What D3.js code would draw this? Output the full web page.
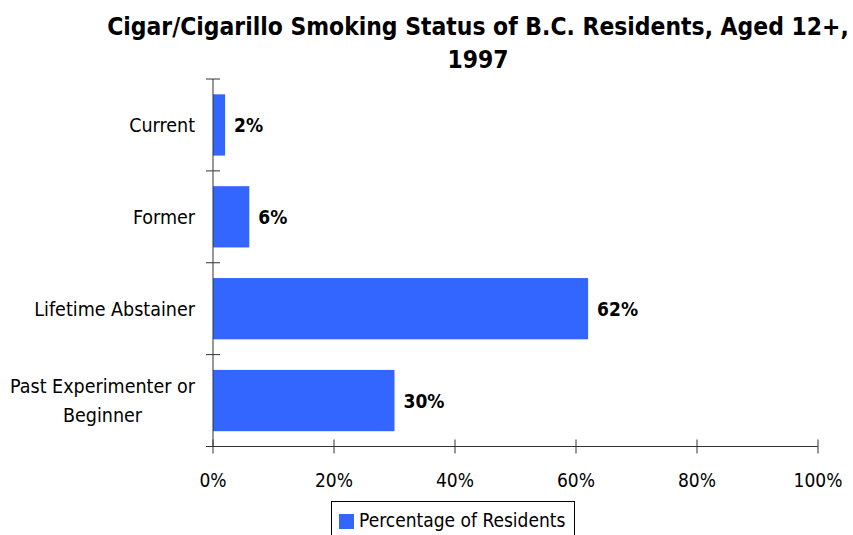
<!DOCTYPE html>
<html>
<head>
<meta charset="utf-8">
<script src="https://cdn.jsdelivr.net/npm/d3@7"></script>
<style>
  html, body { margin: 0; padding: 0; background: #fff; }
  svg { display: block; }
  text { font-family: "DejaVu Sans Condensed", "DejaVu Sans", sans-serif; fill: #000; }
</style>
</head>
<body>
<svg id="chart" width="853" height="535"></svg>
<script>
const titleLines = ["Cigar/Cigarillo Smoking Status of B.C. Residents, Aged 12+,", "1997"];
const categories = ["Current", "Former", "Lifetime Abstainer", "Past Experimenter or Beginner"];
const values = [2, 6, 62, 30];
const valueLabels = ["2%", "6%", "62%", "30%"];
const xTicks = [0, 20, 40, 60, 80, 100];
const xTickLabels = ["0%", "20%", "40%", "60%", "80%", "100%"];
const seriesName = "Percentage of Residents";

const svg = d3.select("#chart");
const color = "#3366ff";
const axisColor = "#333";

const x = d3.scaleLinear().domain([0, 100]).range([213, 818]);
const y = d3.scaleBand().domain(categories).range([79, 446.5]).paddingInner(0.333).paddingOuter(0.1667);
const step = y.step();

// title
svg.append("g").selectAll("text").data(titleLines).join("text")
  .attr("x", 478)
  .attr("y", (d, i) => 35 + i * 33)
  .attr("text-anchor", "middle")
  .style("font-size", "24.4px")
  .style("font-weight", "bold")
  .text(d => d);

// bars
svg.append("g").selectAll("rect").data(categories).join("rect")
  .attr("x", x(0))
  .attr("y", d => y(d))
  .attr("width", (d, i) => x(values[i]) - x(0))
  .attr("height", y.bandwidth())
  .attr("fill", color);

// value labels
svg.append("g").selectAll("text").data(categories).join("text")
  .attr("x", (d, i) => x(values[i]) + 9)
  .attr("y", d => y(d) + y.bandwidth() / 2 + 7)
  .style("font-size", "19px")
  .style("font-weight", "bold")
  .text((d, i) => valueLabels[i]);

// y axis
const yAxis = svg.append("g");
yAxis.append("line")
  .attr("x1", x(0)).attr("x2", x(0))
  .attr("y1", y.range()[0]).attr("y2", y.range()[1])
  .attr("stroke", axisColor).attr("stroke-width", 1);
const bounds = categories.map(d => y(d) - y.paddingInner() * step / 2).concat([y.range()[1]]);
yAxis.selectAll("line.tick").data(bounds).join("line")
  .attr("class", "tick")
  .attr("x1", x(0) - 7).attr("x2", x(0) + 7)
  .attr("y1", d => d).attr("y2", d => d)
  .attr("stroke", axisColor).attr("stroke-width", 1);

// category labels (wrapped, centered block right-aligned near axis)
const labelG = svg.append("g");
const catFont = "19.5px";
categories.forEach(cat => {
  const t = labelG.append("text").style("font-size", catFont).attr("text-anchor", "middle");
  const words = cat.split(" ");
  let lines = [];
  let cur = [];
  const probe = labelG.append("text").style("font-size", catFont);
  words.forEach(w => {
    const test = cur.concat([w]).join(" ");
    probe.text(test);
    if (probe.node().getComputedTextLength() > 190 && cur.length) {
      lines.push(cur.join(" "));
      cur = [w];
    } else cur.push(w);
  });
  lines.push(cur.join(" "));
  let maxW = 0;
  lines.forEach(l => { probe.text(l); maxW = Math.max(maxW, probe.node().getComputedTextLength()); });
  probe.remove();
  const cx = 195 - maxW / 2;
  const lh = 29;
  const cy = y(cat) + y.bandwidth() / 2;
  const firstBase = cy + 7 - (lines.length - 1) * lh / 2;
  lines.forEach((l, i) => {
    t.append("tspan").attr("x", cx).attr("y", firstBase + i * lh).text(l);
  });
});

// x axis
const xAxisY = y.range()[1];
const xAxis = svg.append("g");
xAxis.append("line")
  .attr("x1", x(0) - 7).attr("x2", x(100))
  .attr("y1", xAxisY).attr("y2", xAxisY)
  .attr("stroke", axisColor).attr("stroke-width", 1);
xAxis.selectAll("line.tick").data(xTicks).join("line")
  .attr("class", "tick")
  .attr("x1", d => x(d)).attr("x2", d => x(d))
  .attr("y1", xAxisY - 7).attr("y2", xAxisY + 7)
  .attr("stroke", axisColor).attr("stroke-width", 1);
xAxis.selectAll("text").data(xTicks).join("text")
  .attr("x", d => x(d))
  .attr("y", 487)
  .attr("text-anchor", "middle")
  .style("font-size", "19px")
  .text((d, i) => xTickLabels[i]);

// legend
const lg = svg.append("g");
lg.append("rect").attr("x", 331.5).attr("y", 501.5).attr("width", 243).attr("height", 40)
  .attr("fill", "#fff").attr("stroke", "#000").attr("stroke-width", 1);
lg.append("rect").attr("x", 339).attr("y", 514).attr("width", 15).attr("height", 15).attr("fill", color);
lg.append("text").attr("x", 359).attr("y", 527).style("font-size", "19px").text(seriesName);
</script>
</body>
</html>
